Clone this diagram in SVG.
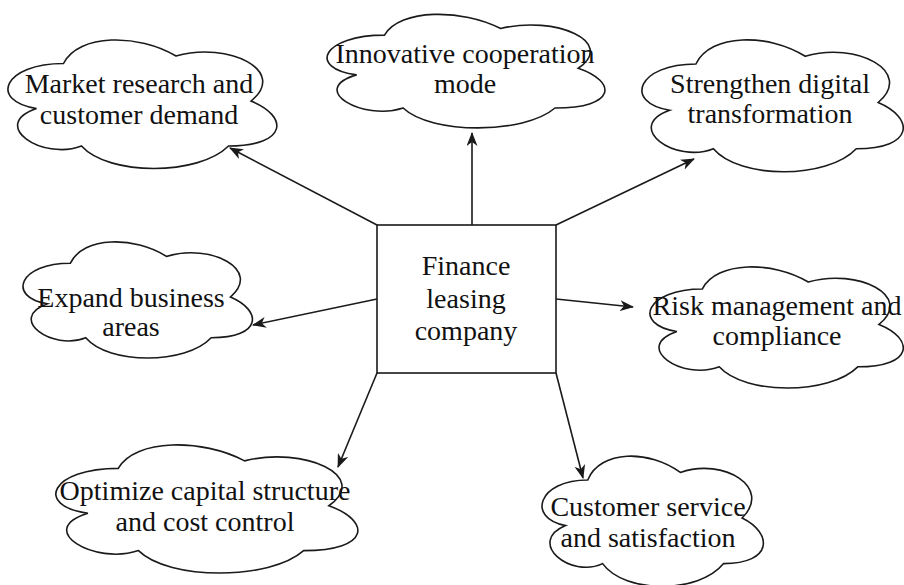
<svg xmlns="http://www.w3.org/2000/svg" xmlns:xlink="http://www.w3.org/1999/xlink" width="904" height="585" viewBox="0 0 904 585">
  <style>
    .cloud { fill: #ffffff; stroke: #1a1a1a; stroke-width: 1.6; vector-effect: non-scaling-stroke; }
    .box { fill: #ffffff; stroke: #1a1a1a; stroke-width: 1.6; }
    .lbl { font-family: "Liberation Serif", "Times New Roman", serif; font-size: 28px; fill: #111111; text-anchor: middle; }
    .edge { fill: none; stroke: #1a1a1a; stroke-width: 1.6; }
  </style>
  <defs>
    <path id="cloudShape" class="cloud" d="M25,25 C5,25 0,50 16,55 C0,66 18,90 31,80 C40,100 70,100 80,80 C100,80 100,60 87.5,50 C100,30 80,10 62.5,20 C50,5 30,5 25,25 Z"/>
    <marker id="arrow" markerUnits="userSpaceOnUse" markerWidth="14" markerHeight="11" viewBox="0 0 14 11" refX="13" refY="5.5" orient="auto">
      <path d="M0,0 L14,5.5 L0,11 L4,5.5 Z" fill="#1a1a1a"/>
    </marker>
  </defs>
  <rect width="904" height="585" fill="#ffffff"/>

  <g id="connectors">
    <line class="edge" x1="377" y1="225" x2="230" y2="148" marker-end="url(#arrow)"/>
    <line class="edge" x1="472" y1="225" x2="472" y2="133" marker-end="url(#arrow)"/>
    <line class="edge" x1="556" y1="225" x2="694" y2="159" marker-end="url(#arrow)"/>
    <line class="edge" x1="377" y1="299" x2="253" y2="325" marker-end="url(#arrow)"/>
    <line class="edge" x1="556" y1="299" x2="633" y2="307" marker-end="url(#arrow)"/>
    <line class="edge" x1="377" y1="373" x2="338" y2="467" marker-end="url(#arrow)"/>
    <line class="edge" x1="556" y1="373" x2="583" y2="478" marker-end="url(#arrow)"/>
  </g>

  <g id="node-center">
    <rect class="box" x="377" y="225" width="179" height="148"/>
    <text class="lbl" x="466" y="275">Finance</text>
    <text class="lbl" x="466" y="308">leasing</text>
    <text class="lbl" x="466" y="340">company</text>
  </g>

  <g id="node-market">
    <use xlink:href="#cloudShape" transform="translate(-11.5,26) scale(3,1.5)"/>
    <text class="lbl" x="139" y="93">Market research and</text>
    <text class="lbl" x="139" y="124">customer demand</text>
  </g>

  <g id="node-innovative">
    <use xlink:href="#cloudShape" transform="translate(307,2) scale(3.1,1.325)"/>
    <text class="lbl" x="465" y="63">Innovative cooperation</text>
    <text class="lbl" x="465" y="93">mode</text>
  </g>

  <g id="node-digital">
    <use xlink:href="#cloudShape" transform="translate(623,25.5) scale(2.916,1.54)"/>
    <text class="lbl" x="770" y="93">Strengthen digital</text>
    <text class="lbl" x="770" y="123">transformation</text>
  </g>

  <g id="node-expand">
    <use xlink:href="#cloudShape" transform="translate(6.4,229.3) scale(2.56,1.355)"/>
    <text class="lbl" x="131" y="307">Expand business</text>
    <text class="lbl" x="131" y="336">areas</text>
  </g>

  <g id="node-risk">
    <use xlink:href="#cloudShape" transform="translate(631.6,253.7) scale(2.827,1.414)"/>
    <text class="lbl" x="777" y="315">Risk management and</text>
    <text class="lbl" x="777" y="345">compliance</text>
  </g>

  <g id="node-optimize">
    <use xlink:href="#cloudShape" transform="translate(34,431) scale(3.37,1.495)"/>
    <text class="lbl" x="205" y="500">Optimize capital structure</text>
    <text class="lbl" x="205" y="531">and cost control</text>
  </g>

  <g id="node-customer">
    <use xlink:href="#cloudShape" transform="translate(526,442) scale(2.47,1.52)"/>
    <text class="lbl" x="648" y="516">Customer service</text>
    <text class="lbl" x="648" y="547">and satisfaction</text>
  </g>
</svg>
